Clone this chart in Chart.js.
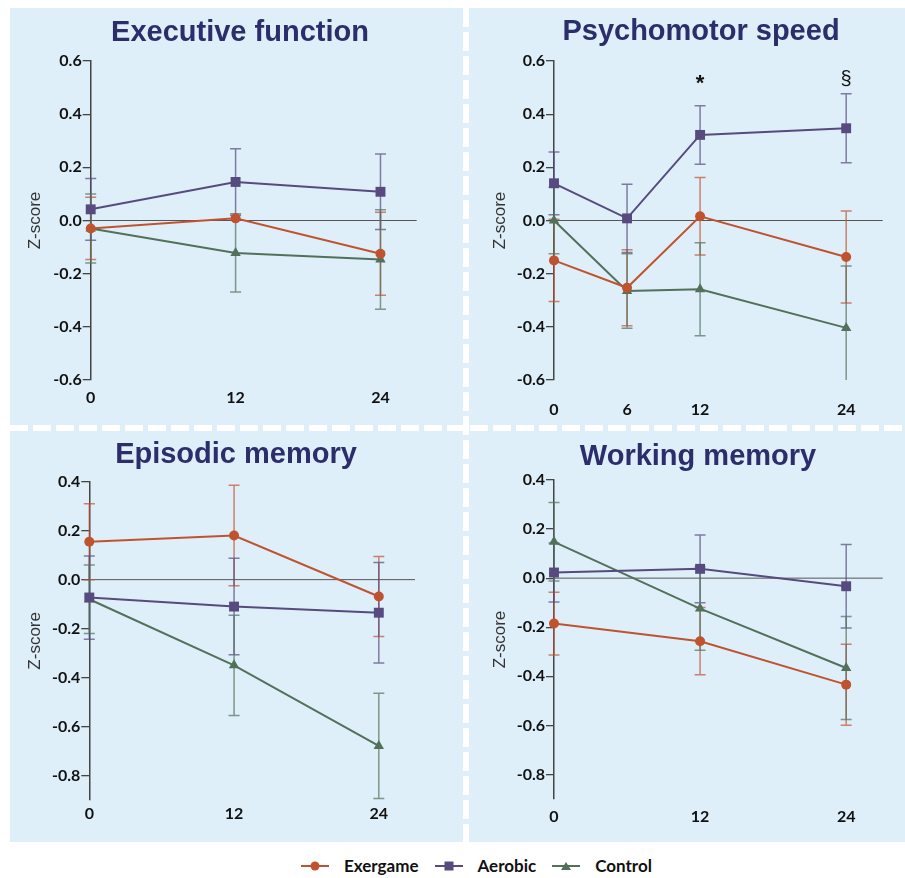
<!DOCTYPE html>
<html>
<head>
<meta charset="utf-8">
<script src="https://cdn.jsdelivr.net/npm/chart.js@4.4.1/dist/chart.umd.min.js"></script>
<style>
  body { margin: 0; background: #fff; width: 905px; height: 878px; position: relative; overflow: hidden; }
  #bg { position: absolute; left: 10px; top: 8px; width: 895px; height: 834px; background: #deeff9; }
  .vdash { position: absolute; left: 463px; top: 8px; width: 6px; height: 834px;
    background: repeating-linear-gradient(to bottom, #fff 0 19px, transparent 19px 24px); }
  .hdash { position: absolute; left: 10px; top: 425px; width: 895px; height: 6px;
    background: repeating-linear-gradient(to right, #fff 0 18px, transparent 18px 23px); }
  .panel { position: absolute; }
  .title { position: absolute; transform: translate(-50%, -50%); white-space: nowrap;
    font: bold 29px "Liberation Sans", Arial, sans-serif; color: #2c2d6b; }
  #legend { position: absolute; left: 301px; top: 855px; display: flex; align-items: center;
    font: bold 17px Lato, sans-serif; color: #111; }
  .item { display: flex; align-items: center; margin-right: 16px; }
  .line { position: relative; width: 28px; height: 2px; margin-right: 15px; }
  .mk { position: absolute; left: 50%; top: 50%; transform: translate(-50%, -50%); }
</style>
</head>
<body>
<div id="bg"></div>
<div class="vdash"></div>
<div class="hdash"></div>

<div class="panel" style="left:10px;top:8px"><canvas id="c1" width="453" height="417"></canvas></div>
<div class="panel" style="left:469px;top:8px"><canvas id="c2" width="436" height="417"></canvas></div>
<div class="panel" style="left:10px;top:431px"><canvas id="c3" width="453" height="411"></canvas></div>
<div class="panel" style="left:469px;top:431px"><canvas id="c4" width="436" height="411"></canvas></div>

<div class="title" style="left:240px;top:31px">Executive function</div>
<div class="title" style="left:701px;top:30px">Psychomotor speed</div>
<div class="title" style="left:236px;top:453px">Episodic memory</div>
<div class="title" style="left:698px;top:455px">Working memory</div>

<div id="legend"></div>

<script>
// groups and time points (months)
const seriesNames = ['Exergame', 'Aerobic', 'Control'];
const months3 = [0, 12, 24];
const months4 = [0, 6, 12, 24];
const ticksWide = [-0.6, -0.4, -0.2, 0.0, 0.2, 0.4, 0.6];
const ticksLow = [-0.8, -0.6, -0.4, -0.2, 0.0, 0.2, 0.4];

// Executive function
const execExergame = [-0.03, 0.008, -0.125];
const execExergameErr = [0.117, null, 0.156];
const execAerobic = [0.042, 0.145, 0.108];
const execAerobicErr = [0.116, 0.125, 0.142];
const execControl = [-0.03, -0.122, -0.147];
const execControlErr = [0.13, 0.147, 0.187];

// Psychomotor speed
const psyExergame = [-0.15, -0.253, 0.016, -0.137];
const psyExergameErr = [0.155, 0.143, 0.146, 0.173];
const psyAerobic = [0.14, 0.008, 0.322, 0.347];
const psyAerobicErr = [0.118, 0.128, 0.11, 0.13];
const psyControl = [0.0, -0.265, -0.259, -0.404];
const psyControlErr = [0.125, 0.14, 0.175, 0.233];
const psyMarks = [{ month: 12, text: '*' }, { month: 24, text: '§' }];

// Episodic memory
const epiExergame = [0.155, 0.18, -0.069];
const epiExergameErr = [0.155, 0.205, 0.163];
const epiAerobic = [-0.073, -0.11, -0.135];
const epiAerobicErr = [0.17, 0.197, 0.205];
const epiControl = [-0.08, -0.35, -0.679];
const epiControlErr = [0.14, 0.205, 0.215];

// Working memory
const workExergame = [-0.185, -0.257, -0.434];
const workExergameErr = [0.128, 0.137, 0.165];
const workAerobic = [0.023, 0.038, -0.033];
const workAerobicErr = [0.12, 0.138, 0.17];
const workControl = [0.148, -0.124, -0.366];
const workControlErr = [0.16, 0.17, 0.21];

const lineColors = ['#c0532f', '#564a7e', '#52705a'];
const errColors = ['rgba(192,83,47,0.7)', 'rgba(86,74,126,0.7)', 'rgba(82,112,90,0.7)'];
const pointStyles = ['circle', 'rect', 'triangle'];
const pointSizes = [5, 7, 6];

// zero reference line + error bars, drawn from the scales
const errorBarPlugin = {
  id: 'errorBars',
  beforeDatasetsDraw(chart) {
    const { ctx, chartArea, scales: { x, y } } = chart;
    ctx.save();
    ctx.strokeStyle = '#555';
    ctx.lineWidth = 1;
    ctx.beginPath();
    ctx.moveTo(chartArea.left, y.getPixelForValue(0));
    ctx.lineTo(chartArea.right, y.getPixelForValue(0));
    ctx.stroke();

    ctx.beginPath();
    ctx.rect(chartArea.left - 20, chartArea.top - 1, chartArea.width + 40, chartArea.height + 1);
    ctx.clip();
    chart.data.datasets.forEach(ds => {
      ctx.strokeStyle = ds.errColor;
      ctx.lineWidth = 1.5;
      ds.data.forEach((p, i) => {
        const e = ds.errors[i];
        if (e == null) return;
        const px = x.getPixelForValue(p.x);
        const top = y.getPixelForValue(p.y + e);
        const bot = y.getPixelForValue(p.y - e);
        ctx.beginPath();
        ctx.moveTo(px, top); ctx.lineTo(px, bot);
        ctx.moveTo(px - 5.5, top); ctx.lineTo(px + 5.5, top);
        ctx.moveTo(px - 5.5, bot); ctx.lineTo(px + 5.5, bot);
        ctx.stroke();
      });
    });
    ctx.restore();
  },
  afterDatasetsDraw(chart) {
    const marks = chart.options.plugins.errorBars.marks || [];
    const { ctx, scales: { x, y } } = chart;
    ctx.save();
    ctx.fillStyle = '#111';
    ctx.textAlign = 'center';
    ctx.textBaseline = 'middle';
    marks.forEach(m => {
      ctx.font = m.text === '*' ? 'bold 22px "Liberation Sans"' : '20px "Liberation Sans"';
      const dy = m.text === '*' ? 4 : 0;
      ctx.fillText(m.text, x.getPixelForValue(m.month), y.getPixelForValue(0.53) + dy);
    });
    ctx.restore();
  }
};

function makePanel(id, months, groups, errs, yMin, yMax, yTicks, lay, marks) {
  const datasets = groups.map((vals, g) => ({
    label: seriesNames[g],
    data: months.map((m, i) => ({ x: m, y: vals[i] })),
    errors: errs[g],
    errColor: errColors[g],
    borderColor: lineColors[g],
    backgroundColor: lineColors[g],
    pointStyle: pointStyles[g],
    pointRadius: pointSizes[g],
    pointBorderWidth: 0,
    borderWidth: 2,
    tension: 0,
    clip: false
  }));

  new Chart(document.getElementById(id), {
    type: 'line',
    data: { datasets },
    options: {
      responsive: false,
      animation: false,
      layout: { padding: { left: 0, right: lay.right, top: lay.top, bottom: lay.bottom } },
      plugins: {
        legend: { display: false },
        tooltip: { enabled: false },
        errorBars: { marks: marks }
      },
      scales: {
        x: {
          type: 'linear',
          min: 0,
          max: 27,
          afterBuildTicks: s => { s.ticks = months.map(v => ({ value: v })); },
          afterFit: s => { s.height = lay.xh; },
          grid: { display: false, drawTicks: false },
          border: { display: false },
          ticks: { padding: lay.xpad, autoSkip: false, maxRotation: 0,
                   font: { family: 'Lato', weight: 'bold', size: 16 }, color: '#111' }
        },
        y: {
          min: yMin,
          max: yMax,
          afterBuildTicks: s => { s.ticks = yTicks.map(v => ({ value: v })); },
          afterFit: s => { s.width = lay.yw; },
          grid: { drawOnChartArea: false, drawTicks: true, tickLength: 8, color: '#444', lineWidth: 1.3 },
          border: { color: '#444', width: 1.5 },
          ticks: { padding: 1, callback: v => v.toFixed(1),
                   font: { family: 'Lato', weight: 'bold', size: 16 }, color: '#111' },
          title: { display: true, text: 'Z-score', color: '#333',
                   font: { family: 'Liberation Sans', size: 17 }, padding: { top: lay.tpad, bottom: 0 } }
        }
      }
    },
    plugins: [errorBarPlugin]
  });
}

makePanel('c1', months3, [execExergame, execAerobic, execControl],
  [execExergameErr, execAerobicErr, execControlErr], -0.6, 0.6, ticksWide,
  { right: 46.3, top: 53, bottom: 10, xh: 35, xpad: 8.4, yw: 80.7, tpad: 14.8 }, []);

makePanel('c2', months4, [psyExergame, psyAerobic, psyControl],
  [psyExergameErr, psyAerobicErr, psyControlErr], -0.6, 0.6, ticksWide,
  { right: 22.3, top: 53, bottom: 5, xh: 40, xpad: 20.4, yw: 85, tpad: 20.8 }, psyMarks);

makePanel('c3', months3, [epiExergame, epiAerobic, epiControl],
  [epiExergameErr, epiAerobicErr, epiControlErr], -0.9, 0.4, ticksLow,
  { right: 48, top: 50.7, bottom: 7, xh: 35, xpad: 4.4, yw: 79.3, tpad: 14.8 }, []);

makePanel('c4', months3, [workExergame, workAerobic, workControl],
  [workExergameErr, workAerobicErr, workControlErr], -0.9, 0.4, ticksLow,
  { right: 22.3, top: 49, bottom: 8, xh: 35, xpad: 8.1, yw: 85, tpad: 20.8 }, []);

// legend built from the series names
const legend = document.getElementById('legend');
seriesNames.forEach((name, g) => {
  const item = document.createElement('div');
  item.className = 'item';
  const line = document.createElement('div');
  line.className = 'line';
  line.style.background = lineColors[g];
  const mk = document.createElement('div');
  mk.className = 'mk';
  if (pointStyles[g] === 'circle') {
    Object.assign(mk.style, { width: '9px', height: '9px', borderRadius: '50%', background: lineColors[g] });
  } else if (pointStyles[g] === 'rect') {
    Object.assign(mk.style, { width: '9px', height: '9px', background: lineColors[g] });
  } else {
    Object.assign(mk.style, { width: '0', height: '0', borderLeft: '5px solid transparent',
      borderRight: '5px solid transparent', borderBottom: '8px solid ' + lineColors[g] });
  }
  line.appendChild(mk);
  const label = document.createElement('span');
  label.textContent = name;
  item.appendChild(line);
  item.appendChild(label);
  legend.appendChild(item);
});
</script>
</body>
</html>
